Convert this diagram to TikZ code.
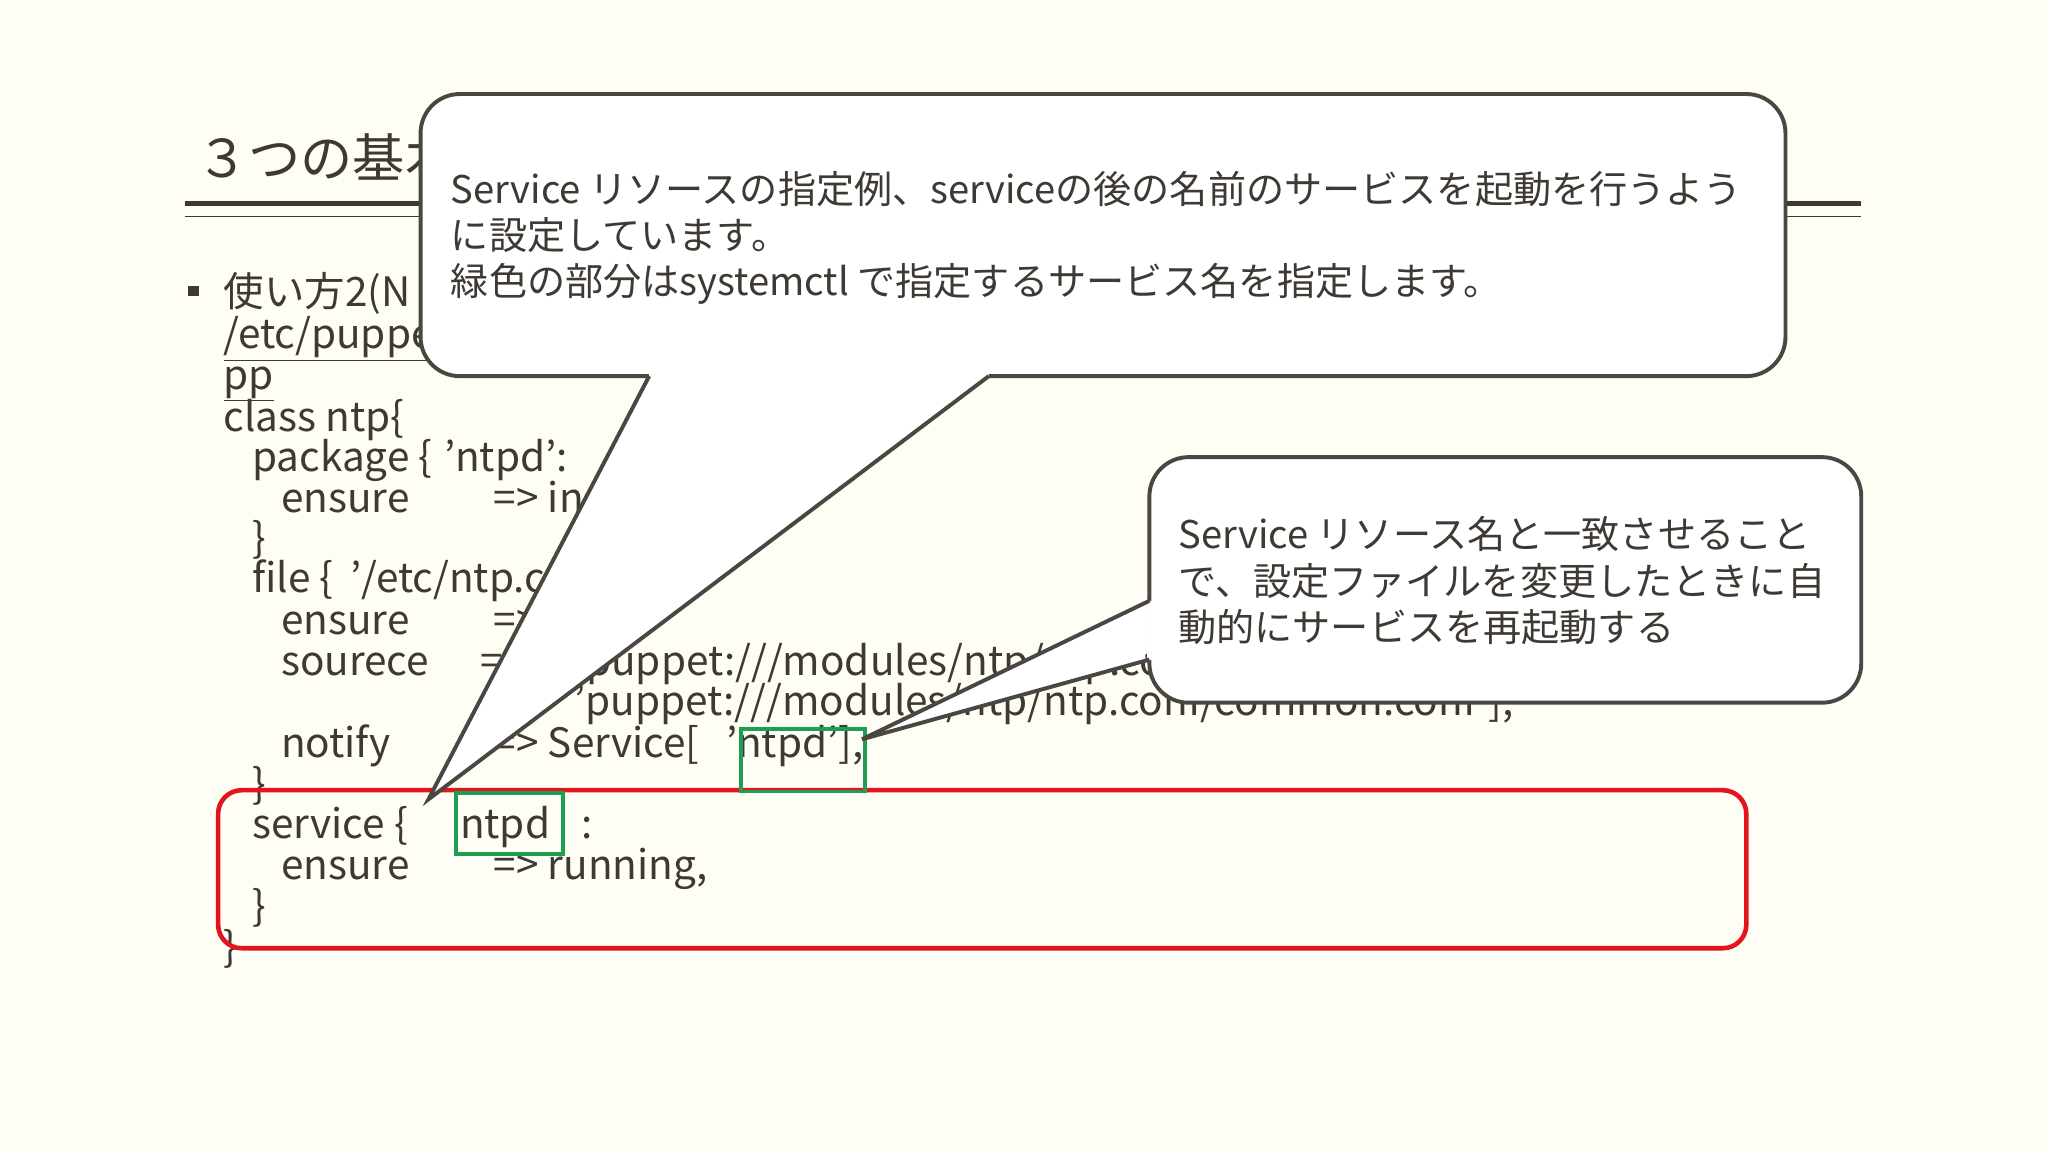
\documentclass[tikz,border=0pt]{standalone}
\usepackage{fontspec}
\setmainfont{Noto Sans CJK JP}
\newcommand\q{\char"27\relax}
\definecolor{bg}{HTML}{FEFEF4}
\definecolor{ink}{HTML}{3E3A33}
\definecolor{edge}{HTML}{4A4743}
\definecolor{rb}{HTML}{E3141E}
\definecolor{gb}{HTML}{1E9E50}
\tikzset{code/.style={anchor=base west,inner sep=0pt,text=ink,font=\fontsize{31}{31}\selectfont},
 note/.style={anchor=base west,inner sep=0pt,text=ink,font=\fontsize{29.2}{35}\selectfont},
 callout/.style={draw=edge,line width=3pt,fill=white,rounded corners=30pt},
 tail/.style={draw=edge,line width=3pt,line join=miter}}
\begin{document}
\begin{tikzpicture}[x=1pt,y=-1pt]
\fill[bg] (0,0) rectangle (1568,882);
\useasboundingbox (0,0) rectangle (1568,882);
% title
\node[anchor=base west,inner sep=0pt,text=ink,font=\fontsize{40}{40}\selectfont] (title) at (150,136) {３つの基本};
\draw[ink,line width=4pt] (142,156) -- (1425,156);
\draw[ink,line width=1pt] (142,166) -- (1425,166);
% body
\fill[ink] (144,219) rectangle (152,227);
\node[code] (l1) at (171,235) {使い方2(N};
\node[code] (l2) at (171,267) {\underline{/etc/puppetlabs/code/environments/production/modules/ntp/manifests/init.}};
\node[code] (l3) at (171,298) {\underline{pp}};
\node[code] (l4) at (171,330) {class ntp\{};
\node[code] (l5a) at (193,361) {package \{};
\node[code] (l5b) at (340,361) {\q ntpd\q:};
\node[code] (l6a) at (215,392) {ensure};
\node[code] (l6b) at (378,392) {=> installed,};
\node[code] (l7) at (193,423) {\}};
\node[code] (l8a) at (193,454) {file \{};
\node[code] (l8b) at (268,454) {\q/etc/ntp.conf\q:};
\node[code] (l9a) at (215,486) {ensure};
\node[code] (l9b) at (378,486) {=> file,};
\node[code] (l10a) at (215,517) {sourece};
\node[code] (l10b) at (368,517) {=>};
\node[code] (l10c) at (430,517) {[\q puppet:///modules/ntp/ntp.conf\q,};
\node[code] (l11) at (440,548) {\q puppet:///modules/ntp/ntp.conf/common.conf\q],};
\node[code] (l12a) at (215,580) {notify};
\node[code] (l12b) at (378,580) {=> Service[};
\node[code] (l12c) at (556,580) {\q ntpd\q],};
\node[code] (l13) at (193,611) {\}};
\node[code] (l14a) at (193,642) {service \{};
\node[code] (l14b) at (352,642) {ntpd};
\node[code] (l14c) at (445,642) {:};
\node[code] (l15a) at (215,673) {ensure};
\node[code] (l15b) at (378,673) {=> running,};
\node[code] (l16) at (193,705) {\}};
\node[code] (l17) at (171,736) {\}};
% highlight boxes
\draw[rb,line width=3.5pt,rounded corners=18pt] (167,605) rectangle (1337,726);
\draw[gb,line width=3pt] (567,558) rectangle (662,606);
\draw[gb,line width=3pt] (349,607) rectangle (431,654);
% callout 1
\draw[callout] (322,72) rectangle (1367,288);
\fill[white] (497,284) -- (497,290) -- (328,612) -- (757,290) -- (757,284) -- cycle;
\draw[tail] (497,288) -- (328,612) -- (757,288);
\node[note] (n1) at (345,156) {Service リソースの指定例、serviceの後の名前のサービスを起動を行うよう};
\node[note] (n2) at (345,191) {に設定しています。};
\node[note] (n3) at (345,226) {緑色の部分はsystemctl で指定するサービス名を指定します。};
% callout 2
\draw[callout] (880,350) rectangle (1425,538);
\fill[white] (877,460) -- (882,460) -- (660,566) -- (882,505) -- (877,505) -- cycle;
\fill[white] (878,460) rectangle (884,505);
\draw[tail] (880,460) -- (660,566) -- (880,505);
\node[note] (m1) at (902,420) {Service リソース名と一致させること};
\node[note] (m2) at (902,456) {で、設定ファイルを変更したときに自};
\node[note] (m3) at (902,491) {動的にサービスを再起動する};
\end{tikzpicture}
\end{document}
